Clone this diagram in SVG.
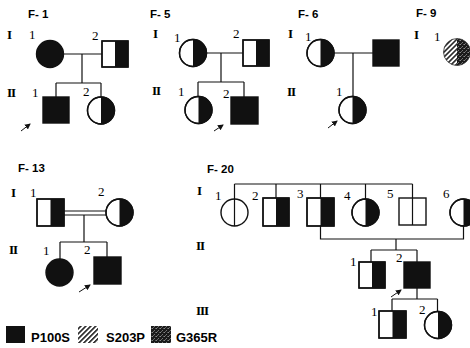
<svg xmlns="http://www.w3.org/2000/svg" width="470" height="348" viewBox="0 0 470 348">
  <style>
    .ln{stroke:#111;stroke-width:1.2;fill:none}
    .sh{stroke:#111;stroke-width:1.4;fill:#fff}
    .ol{stroke:#111;stroke-width:1.4;fill:none}
    .blk{fill:#111}
    .hat{fill:url(#hatch)}
    .stp{fill:url(#stipple)}
    .num{font-family:"Liberation Serif",serif;font-size:13px;fill:#000}
    .rom{font-family:"Liberation Serif",serif;font-weight:bold;font-size:13px;fill:#000;letter-spacing:-1px}
    .fam{font-family:"Liberation Sans",Arial,sans-serif;font-weight:bold;font-size:11.5px;fill:#000}
    .leg{font-family:"Liberation Sans",Arial,sans-serif;font-weight:bold;font-size:13px;fill:#000}
    .arr{stroke:#111;stroke-width:1;fill:none;marker-end:url(#head)}
  </style>
  <defs>
    <marker id="head" markerUnits="userSpaceOnUse" markerWidth="6" markerHeight="6" refX="5" refY="3" orient="auto">
      <path d="M0,0 L6,3 L0,6 Z" fill="#111"/>
    </marker>
    <pattern id="hatch" width="3.5" height="3.5" patternUnits="userSpaceOnUse" patternTransform="rotate(45)">
      <rect width="3.5" height="3.5" fill="#fff"/>
      <rect width="1.5" height="3.5" fill="#111"/>
    </pattern>
    <pattern id="stipple" width="4" height="4" patternUnits="userSpaceOnUse">
      <rect width="4" height="4" fill="#1a1a1a"/>
      <rect x="0" y="0" width="1" height="1" fill="#8a8a8a"/>
      <rect x="2" y="2" width="1" height="1" fill="#777"/>
      <rect x="3" y="0" width="1" height="1" fill="#555"/>
      <rect x="1" y="3" width="1" height="1" fill="#666"/>
    </pattern>
  </defs>

  <!-- family labels and generation numerals -->
  <g id="labels">
    <text class="fam" x="28" y="18">F- 1</text>
    <text class="fam" x="150" y="18">F- 5</text>
    <text class="fam" x="298" y="18">F- 6</text>
    <text class="fam" x="416" y="17">F- 9</text>
    <text class="fam" x="18" y="172">F- 13</text>
    <text class="fam" x="207" y="173">F- 20</text>

    <text class="rom" x="7" y="39">I</text>
    <text class="rom" x="7" y="97">II</text>
    <text class="rom" x="153" y="38">I</text>
    <text class="rom" x="152" y="95">II</text>
    <text class="rom" x="288" y="38">I</text>
    <text class="rom" x="287" y="96">II</text>
    <text class="rom" x="414" y="39">I</text>
    <text class="rom" x="11" y="197">I</text>
    <text class="rom" x="9" y="254">II</text>
    <text class="rom" x="197" y="195">I</text>
    <text class="rom" x="196" y="250">II</text>
    <text class="rom" x="196" y="315">III</text>
  </g>

  <!-- connectors -->
  <g id="connectors">
    <!-- F-1 -->
    <path class="ln" d="M64,54 H102 M82,54 V83 M56,83 H101 M56,83 V97 M101,83 V97"/>
    <!-- F-5 -->
    <path class="ln" d="M207,53 H243 M221,53 V82 M198,82 H244 M198,82 V96.5 M244,82 V97"/>
    <!-- F-6 -->
    <path class="ln" d="M334,53 H373 M353,53 V96.5"/>
    <!-- F-13 -->
    <path class="ln" d="M64,211 H106 M64,215 H106 M84,215 V242 M60,242 H107 M60,242 V259 M107,242 V257"/>
    <!-- F-20 -->
    <path class="ln" d="M234.5,184 H412.5 M234.5,184 V199 M276,184 V198 M320.5,184 V198 M365.5,184 V199 M412.5,184 V198"/>
    <path class="ln" d="M320.5,226 V239 H463.5 V226 M396,239 V250 M371,250 H417 M371,250 V262 M417,250 V262"/>
    <path class="ln" d="M417,288 V299 M392,299 H437.5 M392,299 V311 M437.5,299 V311.5"/>
    <!-- proband arrows -->
    <path class="arr" d="M21,131 L30,124"/>
    <path class="arr" d="M214,131 L223,125"/>
    <path class="arr" d="M328,128 L337,121"/>
    <path class="arr" d="M79,292 L90,285"/>
    <path class="arr" d="M391,297 L401,290"/>
  </g>

  <!-- F-1 -->
  <g id="f1-I-1">
    <text class="num" x="29" y="39">1</text>
    <circle class="sh" cx="50" cy="54" r="13.5" style="fill:#111"/>
  </g>
  <g id="f1-I-2">
    <text class="num" x="92" y="40">2</text>
    <rect class="sh" x="102" y="41" width="26" height="26"/>
    <rect class="blk" x="115" y="41" width="13" height="26"/>
    <rect class="ol" x="102" y="41" width="26" height="26"/>
  </g>
  <g id="f1-II-1">
    <text class="num" x="32" y="97">1</text>
    <rect class="sh" x="43" y="97" width="26" height="26" style="fill:#111"/>
  </g>
  <g id="f1-II-2">
    <text class="num" x="83" y="96">2</text>
    <circle class="sh" cx="101" cy="110.5" r="13.5"/>
    <path class="blk" d="M101,97 A13.5,13.5 0 0 1 101,124 Z"/>
    <circle class="ol" cx="101" cy="110.5" r="13.5"/>
  </g>

  <!-- F-5 -->
  <g id="f5-I-1">
    <text class="num" x="174" y="42">1</text>
    <circle class="sh" cx="193" cy="53" r="13.5"/>
    <path class="blk" d="M193,39.5 A13.5,13.5 0 0 1 193,66.5 Z"/>
    <circle class="ol" cx="193" cy="53" r="13.5"/>
  </g>
  <g id="f5-I-2">
    <text class="num" x="233" y="38">2</text>
    <rect class="sh" x="243" y="40" width="26" height="26"/>
    <rect class="blk" x="256" y="40" width="13" height="26"/>
    <rect class="ol" x="243" y="40" width="26" height="26"/>
  </g>
  <g id="f5-II-1">
    <text class="num" x="178" y="96">1</text>
    <circle class="sh" cx="198.5" cy="110" r="13.5"/>
    <path class="blk" d="M198.5,96.5 A13.5,13.5 0 0 1 198.5,123.5 Z"/>
    <circle class="ol" cx="198.5" cy="110" r="13.5"/>
  </g>
  <g id="f5-II-2">
    <text class="num" x="223" y="98">2</text>
    <rect class="sh" x="231" y="97" width="27" height="27" style="fill:#111"/>
  </g>

  <!-- F-6 -->
  <g id="f6-I-1">
    <text class="num" x="305" y="41">1</text>
    <circle class="sh" cx="320.5" cy="53" r="13.5"/>
    <path class="blk" d="M320.5,39.5 A13.5,13.5 0 0 1 320.5,66.5 Z"/>
    <circle class="ol" cx="320.5" cy="53" r="13.5"/>
  </g>
  <g id="f6-I-2">
    <rect class="sh" x="373" y="40" width="26" height="26" style="fill:#111"/>
  </g>
  <g id="f6-II-1">
    <text class="num" x="336" y="96">1</text>
    <circle class="sh" cx="352.5" cy="110" r="13.5"/>
    <path class="blk" d="M352.5,96.5 A13.5,13.5 0 0 1 352.5,123.5 Z"/>
    <circle class="ol" cx="352.5" cy="110" r="13.5"/>
  </g>

  <!-- F-9 -->
  <g id="f9-I-1">
    <text class="num" x="434" y="41">1</text>
    <path class="hat" d="M457,38.5 A13.5,13.5 0 0 0 457,65.5 Z"/>
    <path class="stp" d="M457,38.5 A13.5,13.5 0 0 1 457,65.5 Z"/>
    <circle cx="457" cy="52" r="13.5" fill="none" stroke="#333" stroke-width="0.8"/>
  </g>

  <!-- F-13 -->
  <g id="f13-I-1">
    <text class="num" x="30" y="197">1</text>
    <rect class="sh" x="37" y="199" width="27" height="27"/>
    <rect class="blk" x="50.5" y="199" width="13.5" height="27"/>
    <rect class="ol" x="37" y="199" width="27" height="27"/>
  </g>
  <g id="f13-I-2">
    <text class="num" x="98" y="196">2</text>
    <circle class="sh" cx="119.5" cy="212.5" r="13.5"/>
    <path class="blk" d="M119.5,199 A13.5,13.5 0 0 1 119.5,226 Z"/>
    <circle class="ol" cx="119.5" cy="212.5" r="13.5"/>
  </g>
  <g id="f13-II-1">
    <text class="num" x="43" y="255">1</text>
    <circle class="sh" cx="59.5" cy="272.5" r="13.5" style="fill:#111"/>
  </g>
  <g id="f13-II-2">
    <text class="num" x="84" y="254">2</text>
    <rect class="sh" x="94" y="257" width="27" height="27" style="fill:#111"/>
  </g>

  <!-- F-20 -->
  <g id="f20-I-1">
    <text class="num" x="215" y="200">1</text>
    <circle class="sh" cx="234.5" cy="212.5" r="13.5"/>
    <path class="ln" d="M234.5,199 V226"/>
  </g>
  <g id="f20-I-2">
    <text class="num" x="252" y="200">2</text>
    <rect class="sh" x="263" y="198" width="26" height="28"/>
    <rect class="blk" x="276" y="198" width="13" height="28"/>
    <rect class="ol" x="263" y="198" width="26" height="28"/>
  </g>
  <g id="f20-I-3">
    <text class="num" x="297" y="198">3</text>
    <rect class="sh" x="307" y="198" width="27" height="28"/>
    <rect class="blk" x="320.5" y="198" width="13.5" height="28"/>
    <rect class="ol" x="307" y="198" width="27" height="28"/>
  </g>
  <g id="f20-I-4">
    <text class="num" x="344" y="200">4</text>
    <circle class="sh" cx="365.5" cy="212.5" r="13.5"/>
    <path class="blk" d="M365.5,199 A13.5,13.5 0 0 1 365.5,226 Z"/>
    <circle class="ol" cx="365.5" cy="212.5" r="13.5"/>
  </g>
  <g id="f20-I-5">
    <text class="num" x="387" y="198">5</text>
    <rect class="sh" x="399" y="198" width="27" height="27"/>
    <path class="ln" d="M412.5,198 V225"/>
  </g>
  <g id="f20-I-6">
    <text class="num" x="443" y="198">6</text>
    <circle class="sh" cx="463.5" cy="212.5" r="13.5"/>
    <path class="blk" d="M463.5,199 A13.5,13.5 0 0 1 463.5,226 Z"/>
    <circle class="ol" cx="463.5" cy="212.5" r="13.5"/>
  </g>
  <g id="f20-II-1">
    <text class="num" x="350" y="266">1</text>
    <rect class="sh" x="359" y="262" width="26" height="26"/>
    <rect class="blk" x="372" y="262" width="13" height="26"/>
    <rect class="ol" x="359" y="262" width="26" height="26"/>
  </g>
  <g id="f20-II-2">
    <text class="num" x="396" y="262">2</text>
    <rect class="sh" x="404" y="262" width="26" height="26" style="fill:#111"/>
  </g>
  <g id="f20-III-1">
    <text class="num" x="371" y="316">1</text>
    <rect class="sh" x="379" y="311" width="27" height="27"/>
    <rect class="blk" x="392.5" y="311" width="13.5" height="27"/>
    <rect class="ol" x="379" y="311" width="27" height="27"/>
  </g>
  <g id="f20-III-2">
    <text class="num" x="419" y="314">2</text>
    <circle class="sh" cx="438" cy="325" r="13.5"/>
    <path class="blk" d="M438,311.5 A13.5,13.5 0 0 1 438,338.5 Z"/>
    <circle class="ol" cx="438" cy="325" r="13.5"/>
  </g>

  <!-- legend -->
  <g id="legend">
    <rect class="blk" x="6" y="326" width="19" height="17"/>
    <text class="leg" x="31" y="342">P100S</text>
    <rect class="hat" x="78" y="326" width="20" height="17"/>
    <text class="leg" x="106" y="342">S203P</text>
    <rect class="stp" x="151" y="326" width="20" height="17"/>
    <text class="leg" x="176" y="342">G365R</text>
  </g>
</svg>
